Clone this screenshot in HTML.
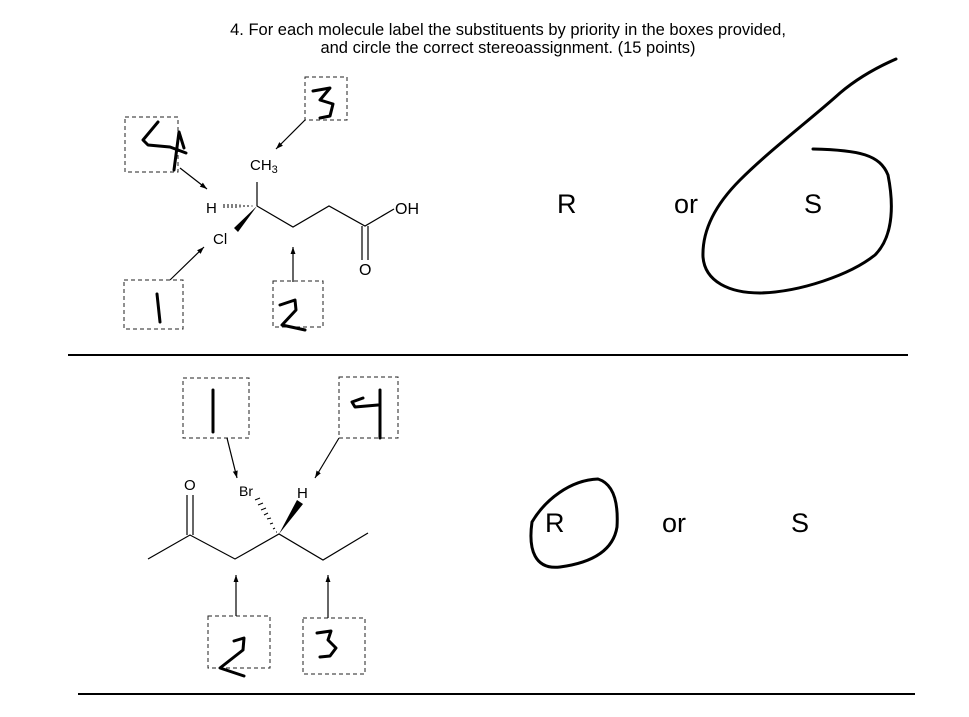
<!DOCTYPE html>
<html><head><meta charset="utf-8"><style>
html,body{margin:0;padding:0;background:#fff;}
svg{display:block;}
text{font-family:"Liberation Sans",Arial,sans-serif;fill:#000;}
</style></head><body>
<svg width="969" height="717" viewBox="0 0 969 717" xmlns="http://www.w3.org/2000/svg">
<defs>
<marker id="ah" viewBox="0 0 10 10" refX="10" refY="5" markerWidth="6" markerHeight="6" orient="auto"><path d="M0,1.5 L10,5 L0,8.5 z" fill="#000"/></marker>
</defs>
<text x="508" y="35" font-size="16.5" text-anchor="middle">4. For each molecule label the substituents by priority in the boxes provided,</text>
<text x="508" y="53" font-size="16.5" text-anchor="middle">and circle the correct stereoassignment. (15 points)</text>

<g fill="none" stroke="#222" stroke-width="1" stroke-dasharray="4,3">
<rect x="125" y="117" width="53" height="55"/>
<rect x="305" y="77" width="42" height="43"/>
<rect x="124" y="280" width="59" height="49"/>
<rect x="273" y="281" width="50" height="46"/>
<rect x="183" y="378" width="66" height="60"/>
<rect x="339" y="377" width="59" height="61"/>
<rect x="208" y="616" width="62" height="52"/>
<rect x="303" y="618" width="62" height="56"/>
</g>

<g stroke="#000" stroke-width="1.2" fill="none">
<line x1="68" y1="355" x2="908" y2="355" stroke-width="2"/>
<line x1="78" y1="694" x2="915" y2="694" stroke-width="2"/>
<line x1="257" y1="182" x2="257" y2="206"/>
<polyline points="257,206 293,227 329,206 365,226 394,209"/>
<line x1="362" y1="226" x2="362" y2="260"/>
<line x1="368" y1="226" x2="368" y2="260"/>
<line x1="180" y1="168" x2="207" y2="189" marker-end="url(#ah)"/>
<line x1="305" y1="120" x2="276" y2="149" marker-end="url(#ah)"/>
<line x1="170" y1="280" x2="204" y2="247" marker-end="url(#ah)"/>
<line x1="293" y1="282" x2="293" y2="247" marker-end="url(#ah)"/>
<polyline points="148,559 190,535 235,559 279,534 323,560 368,533"/>
<line x1="187" y1="535" x2="187" y2="495"/>
<line x1="193" y1="535" x2="193" y2="495"/>
<line x1="227" y1="438" x2="237" y2="478" marker-end="url(#ah)"/>
<line x1="339" y1="438" x2="315" y2="478" marker-end="url(#ah)"/>
<line x1="236" y1="616" x2="236" y2="575" marker-end="url(#ah)"/>
<line x1="328" y1="618" x2="328" y2="575" marker-end="url(#ah)"/>
</g>
<g stroke="#000" stroke-width="1">
<line x1="224" y1="204" x2="224" y2="208"/><line x1="228" y1="204" x2="228" y2="208"/><line x1="232" y1="204" x2="232" y2="208"/><line x1="236" y1="204" x2="236" y2="208"/><line x1="240" y1="204.5" x2="240" y2="207.5"/><line x1="244" y1="205" x2="244" y2="207"/><line x1="248" y1="205" x2="248" y2="207"/><line x1="252" y1="205.5" x2="252" y2="206.5"/>
<line x1="255" y1="500" x2="260" y2="498"/><line x1="258" y1="505" x2="263" y2="503"/><line x1="261" y1="510" x2="266" y2="508"/><line x1="264" y1="515" x2="268" y2="513"/><line x1="267" y1="519" x2="271" y2="518"/><line x1="270" y1="524" x2="273" y2="523"/><line x1="273" y1="529" x2="275" y2="528"/><line x1="276" y1="532" x2="277" y2="532"/>
</g>
<polygon points="257,206 234,228 238,232" fill="#000"/>
<polygon points="279,534 297,500 303,504" fill="#000"/>

<text x="250" y="170" font-size="15">CH<tspan font-size="11" dy="3">3</tspan></text>
<text x="206" y="213" font-size="15">H</text>
<text x="213" y="244" font-size="15">Cl</text>
<text x="395" y="214" font-size="16">OH</text>
<text x="359" y="275" font-size="16">O</text>
<text x="184" y="490" font-size="15">O</text>
<text x="239" y="496" font-size="14">Br</text>
<text x="297" y="498" font-size="15">H</text>

<text x="557" y="213" font-size="27">R</text>
<text x="674" y="213" font-size="27">or</text>
<text x="804" y="213" font-size="27">S</text>
<text x="545" y="532" font-size="27">R</text>
<text x="662" y="532" font-size="27">or</text>
<text x="791" y="532" font-size="27">S</text>

<g fill="none" stroke="#000" stroke-width="3" stroke-linecap="round" stroke-linejoin="round">
<path d="M896,59 C880,66 860,76 840,93 C810,120 770,150 740,180 C715,205 702,230 703,257 C705,282 730,293 760,293 C800,292 850,275 875,255 C895,235 893,200 888,175 C880,155 860,150 813,149"/>
<path d="M532,522 C545,500 570,480 598,479 C617,485 618,510 617,527 C613,552 590,563 560,567 C535,570 528,550 532,522 Z"/>
<path d="M158,122 L143,140 L148,145 L170,147 L186,153 M179,132 L174,170 M179,132 L184,148"/>
<path d="M313,91 L330,88 L320,100 L333,104 L330,116 L320,118"/>
<path d="M157,294 L160,322"/>
<path d="M280,305 L295,300 L296,310 L282,325 L305,330"/>
<path d="M213,390 L213,432"/>
<path d="M363,398 L352,402 L355,407 L378,405 M380,390 L380,438"/>
<path d="M234,641 L244,638 L243,650 L220,668 L244,676"/>
<path d="M317,633 L331,631 L328,640 L336,648 L330,656 L320,657"/>
</g>
</svg>
</body></html>
